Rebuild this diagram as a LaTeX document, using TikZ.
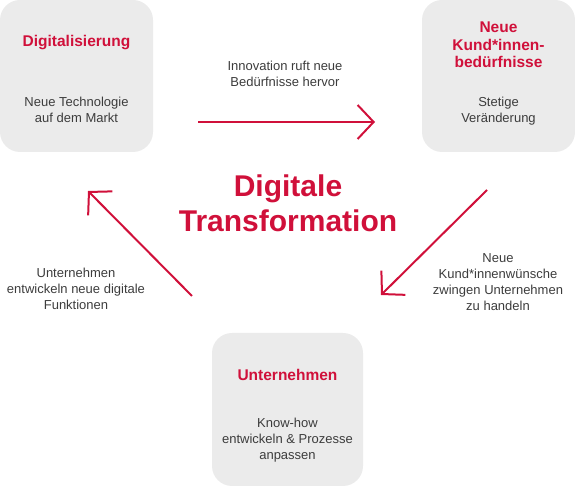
\documentclass[tikz,border=0pt]{standalone}
\usepackage{fontspec}
\setmainfont{Liberation Sans}
\usetikzlibrary{arrows.meta, positioning}
\definecolor{transRed}{RGB}{208,16,58}
\definecolor{boxGray}{RGB}{235,235,235}
\definecolor{textGray}{RGB}{60,60,60}

\begin{document}
\begin{tikzpicture}[
    x=1pt, y=1pt,
    stage/.style={rectangle, rounded corners=20pt, fill=boxGray, minimum width=153pt, minimum height=152pt, inner sep=0pt},
    heading/.style={align=center, text=transRed, font=\fontsize{15.5}{17.5}\selectfont\bfseries},
    body/.style={align=center, text=textGray, font=\fontsize{13}{16}\selectfont},
    arrow/.style={-{Straight Barb[length=16pt, width=34pt]}, line width=2pt, draw=transRed}
]
\useasboundingbox (0,0) rectangle (575,486);

% Stages
\node[stage] (digi) at (76.5,410) {};
\node[stage] (kunden) at (498.5,410) {};
\node[stage, minimum width=151pt, minimum height=153pt] (firma) at (287.5,76.5) {};

% Stage texts
\node[heading] (digiHead) at (76.5,443) {Digitalisierung};
\node[body] (digiBody) at (76.5,376) {Neue Technologie\\auf dem Markt};
\node[heading] (kundenHead) at (498.5,441) {Neue\\Kund*innen-\\bedürfnisse};
\node[body] (kundenBody) at (498.5,375) {Stetige\\Veränderung};
\node[heading] (firmaHead) at (287.5,111) {Unternehmen};
\node[body] (firmaBody) at (287.5,46) {Know-how\\entwickeln \& Prozesse\\anpassen};

% Centre
\node[align=center, text=transRed, font=\fontsize{30}{35}\selectfont\bfseries] (center) at (288,283) {Digitale\\Transformation};

% Cycle
\coordinate (a1s) at (198,364);
\coordinate (a1e) at (375,364);
\coordinate (a2s) at (487,296);
\coordinate (a2e) at (381,191);
\coordinate (a3s) at (192,190);
\coordinate (a3e) at (88,295);
\draw[arrow] (a1s) -- (a1e);
\draw[arrow] (a2s) -- (a2e);
\draw[arrow] (a3s) -- (a3e);

% Arrow labels
\node[body] (l1) at (285,412.5) {Innovation ruft neue\\Bedürfnisse hervor};
\node[body] (l2) at (498,204) {Neue\\Kund*innenwünsche\\zwingen Unternehmen\\zu handeln};
\node[body] (l3) at (76,197) {Unternehmen\\entwickeln neue digitale\\Funktionen};
\end{tikzpicture}
\end{document}
